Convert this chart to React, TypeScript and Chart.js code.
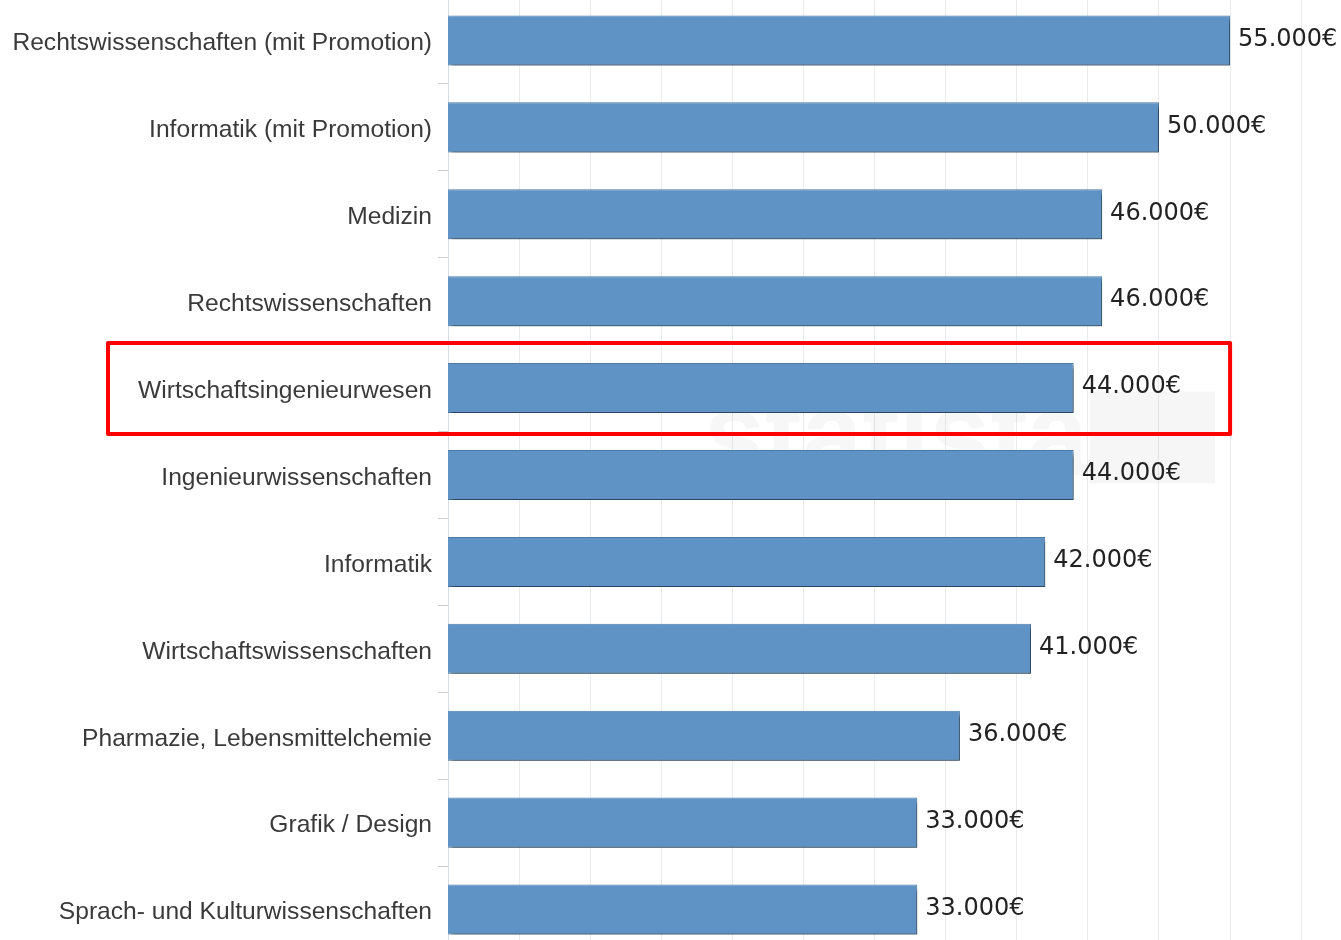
import React, { useEffect, useRef } from "react";
import { Chart, registerables } from "chart.js";

Chart.register(...registerables);

const categories: string[] = [
  "Rechtswissenschaften (mit Promotion)",
  "Informatik (mit Promotion)",
  "Medizin",
  "Rechtswissenschaften",
  "Wirtschaftsingenieurwesen",
  "Ingenieurwissenschaften",
  "Informatik",
  "Wirtschaftswissenschaften",
  "Pharmazie, Lebensmittelchemie",
  "Grafik / Design",
  "Sprach- und Kulturwissenschaften",
];

const salaries: number[] = [55000, 50000, 46000, 46000, 44000, 44000, 42000, 41000, 36000, 33000, 33000];

const gridValues: number[] = [5000, 10000, 15000, 20000, 25000, 30000, 35000, 40000, 45000, 50000, 55000, 60000];

const highlightIndex = 4;

const formatEuro = (v: number) =>
  Math.floor(v / 1000) + "." + String(v % 1000).padStart(3, "0") + "€";

const watermarkPlugin = {
  id: "watermark",
  beforeDatasetsDraw(chart: any) {
    const { ctx } = chart;
    const x = chart.scales.x;
    const y = chart.scales.y;
    const yc = (y.getPixelForValue(4) + y.getPixelForValue(5)) / 2;
    ctx.save();
    ctx.fillStyle = "rgba(0,0,0,0.03)";
    ctx.font = "bold 120px 'Liberation Sans', Arial, sans-serif";
    ctx.textBaseline = "middle";
    ctx.textAlign = "left";
    const x0 = x.getPixelForValue(18000);
    const x1 = x.getPixelForValue(45000);
    const w = ctx.measureText("statista").width;
    ctx.translate(x0, yc + 10);
    ctx.scale((x1 - x0) / w, 1);
    ctx.fillText("statista", 0, 0);
    ctx.restore();
    ctx.save();
    ctx.fillStyle = "rgba(0,0,0,0.035)";
    ctx.fillRect(x1 + 2, yc - 40, x.getPixelForValue(53800) - x1, 92);
    ctx.restore();
  },
};

const shadowPlugin = {
  id: "barShadow",
  beforeDatasetsDraw(chart: any) {
    const { ctx } = chart;
    ctx.save();
    ctx.shadowColor = "rgba(0,0,0,0.45)";
    ctx.shadowBlur = 4;
    ctx.shadowOffsetX = 3;
    ctx.shadowOffsetY = 4;
  },
  afterDatasetsDraw(chart: any) {
    chart.ctx.restore();
  },
};

const valueLabelPlugin = {
  id: "valueLabels",
  afterDatasetsDraw(chart: any) {
    const { ctx } = chart;
    const meta = chart.getDatasetMeta(0);
    ctx.save();
    ctx.fillStyle = "#222222";
    ctx.font = "24px 'DejaVu Sans', sans-serif";
    ctx.textAlign = "left";
    ctx.textBaseline = "middle";
    meta.data.forEach((bar: any, i: number) => {
      ctx.fillText(formatEuro(salaries[i]), bar.x + 8, bar.y - 1);
    });
    ctx.restore();
  },
};

const highlightPlugin = {
  id: "highlight",
  afterDraw(chart: any) {
    const { ctx } = chart;
    const x = chart.scales.x;
    const y = chart.scales.y;
    const c = y.getPixelForValue(highlightIndex);
    const left = 108;
    const right = x.getPixelForValue(55000);
    const top = c - 45;
    const bottom = c + 46;
    ctx.save();
    ctx.strokeStyle = "#ff0000";
    ctx.lineWidth = 4;
    ctx.lineJoin = "round";
    ctx.strokeRect(left, top, right - left, bottom - top);
    ctx.restore();
  },
};

export default function App() {
  const canvasRef = useRef<HTMLCanvasElement | null>(null);

  useEffect(() => {
    if (!canvasRef.current) return;
    const chart = new Chart(canvasRef.current, {
      type: "bar",
      data: {
        labels: categories,
        datasets: [
          {
            data: salaries,
            backgroundColor: "#5f93c5",
            borderColor: "#4e7ba6",
            borderWidth: 1,
            barPercentage: 0.576,
            categoryPercentage: 1,
          },
        ],
      },
      options: {
        indexAxis: "y",
        responsive: false,
        animation: false,
        layout: { padding: 0 },
        plugins: {
          legend: { display: false },
          tooltip: { enabled: false },
          title: { display: false },
        },
        scales: {
          x: {
            min: 0,
            max: 62800,
            afterBuildTicks: (scale: any) => {
              scale.ticks = gridValues.map((v) => ({ value: v }));
            },
            afterFit: (scale: any) => {
              scale.height = 0;
              scale.paddingLeft = 0;
              scale.paddingRight = 0;
            },
            ticks: { display: false },
            border: { display: false },
            grid: {
              drawTicks: false,
              color: "#eaebee",
              lineWidth: 1,
            },
          },
          y: {
            afterFit: (scale: any) => {
              scale.width = 448;
              scale.paddingTop = 0;
              scale.paddingBottom = 0;
            },
            ticks: {
              color: "#3a3a3a",
              font: { family: "'Liberation Sans', Arial, sans-serif", size: 24.6 },
              padding: 6,
              labelOffset: 3,
            },
            border: { display: true, color: "#d5dde6", width: 1 },
            grid: {
              drawOnChartArea: false,
              drawTicks: true,
              tickLength: 10,
              color: "#cfcfcf",
            },
          },
        },
      },
      plugins: [watermarkPlugin, shadowPlugin, valueLabelPlugin, highlightPlugin],
    });
    return () => chart.destroy();
  }, []);

  return (
    <div
      style={{
        position: "absolute",
        left: 0,
        top: 0,
        width: 1341,
        height: 940,
        overflow: "hidden",
        background: "#ffffff",
      }}
    >
      <canvas
        ref={canvasRef}
        width={1341}
        height={956}
        style={{ position: "absolute", left: 0, top: -3, width: 1341, height: 956 }}
      />
    </div>
  );
}
